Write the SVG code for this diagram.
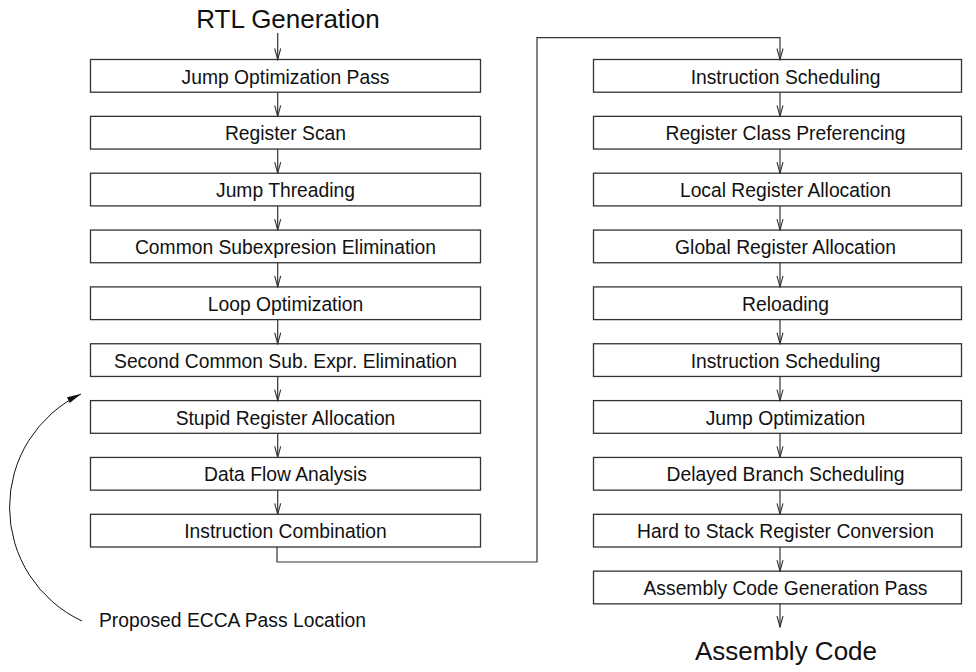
<svg xmlns="http://www.w3.org/2000/svg" width="976" height="672" viewBox="0 0 976 672">
  <style>
    .box { fill: #fff; stroke: #333; stroke-width: 1.3; }
    .lbl { font-family: "Liberation Sans", Arial, sans-serif; font-size: 19.3px; fill: #111; text-anchor: middle; }
    .big { font-family: "Liberation Sans", Arial, sans-serif; font-size: 26px; fill: #111; text-anchor: middle; }
    .flow { fill: none; stroke: #333; stroke-width: 1.2; }
    .arr { marker-end: url(#vhead); }
  </style>
  <defs>
    <!-- open V arrowhead for pass-to-pass flow -->
    <marker id="vhead" markerUnits="userSpaceOnUse" markerWidth="14" markerHeight="10" viewBox="-13 -5 14 10" refX="0" refY="0" orient="auto">
      <path d="M -11 -3 L 0 0 L -11 3" fill="none" stroke="#333" stroke-width="1.1"/>
    </marker>
    <!-- filled head for the annotation pointer -->
    <marker id="solid" markerUnits="userSpaceOnUse" markerWidth="16" markerHeight="10" viewBox="-15 -5 16 10" refX="0" refY="0" orient="auto">
      <path d="M -14 -3.2 L 0 0 L -14 3.2 Z" fill="#111"/>
    </marker>
  </defs>

  <rect width="976" height="672" fill="#fff"/>

  <!-- terminal labels -->
  <text class="big" x="288" y="28">RTL Generation</text>
  <text class="big" x="786" y="660">Assembly Code</text>

  <!-- left column of passes -->
  <g id="jump-opt-pass"><rect class="box" x="90.5" y="59.5" width="390" height="32.7"/><text class="lbl" x="285.5" y="83.5">Jump Optimization Pass</text></g>
  <g id="register-scan"><rect class="box" x="90.5" y="116.35" width="390" height="32.7"/><text class="lbl" x="285.5" y="140.35">Register Scan</text></g>
  <g id="jump-threading"><rect class="box" x="90.5" y="173.2" width="390" height="32.7"/><text class="lbl" x="285.5" y="197.2">Jump Threading</text></g>
  <g id="cse"><rect class="box" x="90.5" y="230.05" width="390" height="32.7"/><text class="lbl" x="285.5" y="254.05">Common Subexpresion Elimination</text></g>
  <g id="loop-opt"><rect class="box" x="90.5" y="286.9" width="390" height="32.7"/><text class="lbl" x="285.5" y="310.9">Loop Optimization</text></g>
  <g id="cse2"><rect class="box" x="90.5" y="343.75" width="390" height="32.7"/><text class="lbl" x="285.5" y="367.75">Second Common Sub. Expr. Elimination</text></g>
  <g id="stupid-alloc"><rect class="box" x="90.5" y="400.6" width="390" height="32.7"/><text class="lbl" x="285.5" y="424.6">Stupid Register Allocation</text></g>
  <g id="data-flow"><rect class="box" x="90.5" y="457.45" width="390" height="32.7"/><text class="lbl" x="285.5" y="481.45">Data Flow Analysis</text></g>
  <g id="insn-combine"><rect class="box" x="90.5" y="514.3" width="390" height="32.7"/><text class="lbl" x="285.5" y="538.3">Instruction Combination</text></g>

  <!-- right column of passes -->
  <g id="sched1"><rect class="box" x="593.5" y="59.5" width="368" height="32.7"/><text class="lbl" x="785.5" y="83.5">Instruction Scheduling</text></g>
  <g id="reg-class"><rect class="box" x="593.5" y="116.35" width="368" height="32.7"/><text class="lbl" x="785.5" y="140.35">Register Class Preferencing</text></g>
  <g id="local-alloc"><rect class="box" x="593.5" y="173.2" width="368" height="32.7"/><text class="lbl" x="785.5" y="197.2">Local Register Allocation</text></g>
  <g id="global-alloc"><rect class="box" x="593.5" y="230.05" width="368" height="32.7"/><text class="lbl" x="785.5" y="254.05">Global Register Allocation</text></g>
  <g id="reload"><rect class="box" x="593.5" y="286.9" width="368" height="32.7"/><text class="lbl" x="785.5" y="310.9">Reloading</text></g>
  <g id="sched2"><rect class="box" x="593.5" y="343.75" width="368" height="32.7"/><text class="lbl" x="785.5" y="367.75">Instruction Scheduling</text></g>
  <g id="jump-opt"><rect class="box" x="593.5" y="400.6" width="368" height="32.7"/><text class="lbl" x="785.5" y="424.6">Jump Optimization</text></g>
  <g id="delayed-branch"><rect class="box" x="593.5" y="457.45" width="368" height="32.7"/><text class="lbl" x="785.5" y="481.45">Delayed Branch Scheduling</text></g>
  <g id="reg-stack"><rect class="box" x="593.5" y="514.3" width="368" height="32.7"/><text class="lbl" x="785.5" y="538.3">Hard to Stack Register Conversion</text></g>
  <g id="asm-gen"><rect class="box" x="593.5" y="571.15" width="368" height="32.7"/><text class="lbl" x="785.5" y="595.15">Assembly Code Generation Pass</text></g>

  <!-- annotation -->
  <g id="ecca-note">
    <text class="lbl" x="99" y="627" style="text-anchor:start">Proposed ECCA Pass Location</text>
  </g>

  <!-- connectors -->
  <g id="connectors">
    <path class="flow arr" d="M 277.7 33 V 59.5"/>
    <path class="flow arr" d="M 277.7 92.2 V 116.35"/>
    <path class="flow arr" d="M 277.7 149.05 V 173.2"/>
    <path class="flow arr" d="M 277.7 205.9 V 230.05"/>
    <path class="flow arr" d="M 277.7 262.75 V 286.9"/>
    <path class="flow arr" d="M 277.7 319.6 V 343.75"/>
    <path class="flow arr" d="M 277.7 376.45 V 400.6"/>
    <path class="flow arr" d="M 277.7 433.3 V 457.45"/>
    <path class="flow arr" d="M 277.7 490.15 V 514.3"/>
    <path class="flow arr" d="M 277 547 V 562 H 537 V 37.7 H 780 V 59.5"/>
    <path class="flow arr" d="M 780 92.2 V 116.35"/>
    <path class="flow arr" d="M 780 149.05 V 173.2"/>
    <path class="flow arr" d="M 780 205.9 V 230.05"/>
    <path class="flow arr" d="M 780 262.75 V 286.9"/>
    <path class="flow arr" d="M 780 319.6 V 343.75"/>
    <path class="flow arr" d="M 780 376.45 V 400.6"/>
    <path class="flow arr" d="M 780 433.3 V 457.45"/>
    <path class="flow arr" d="M 780 490.15 V 514.3"/>
    <path class="flow arr" d="M 780 547 V 571.15"/>
    <path class="flow arr" d="M 780 603.85 V 627"/>
    <!-- curved pointer to the proposed insertion point -->
    <path d="M 82 621 A 125.5 125.5 0 0 1 81 394" fill="none" stroke="#111" stroke-width="1" marker-end="url(#solid)"/>
  </g>
</svg>
